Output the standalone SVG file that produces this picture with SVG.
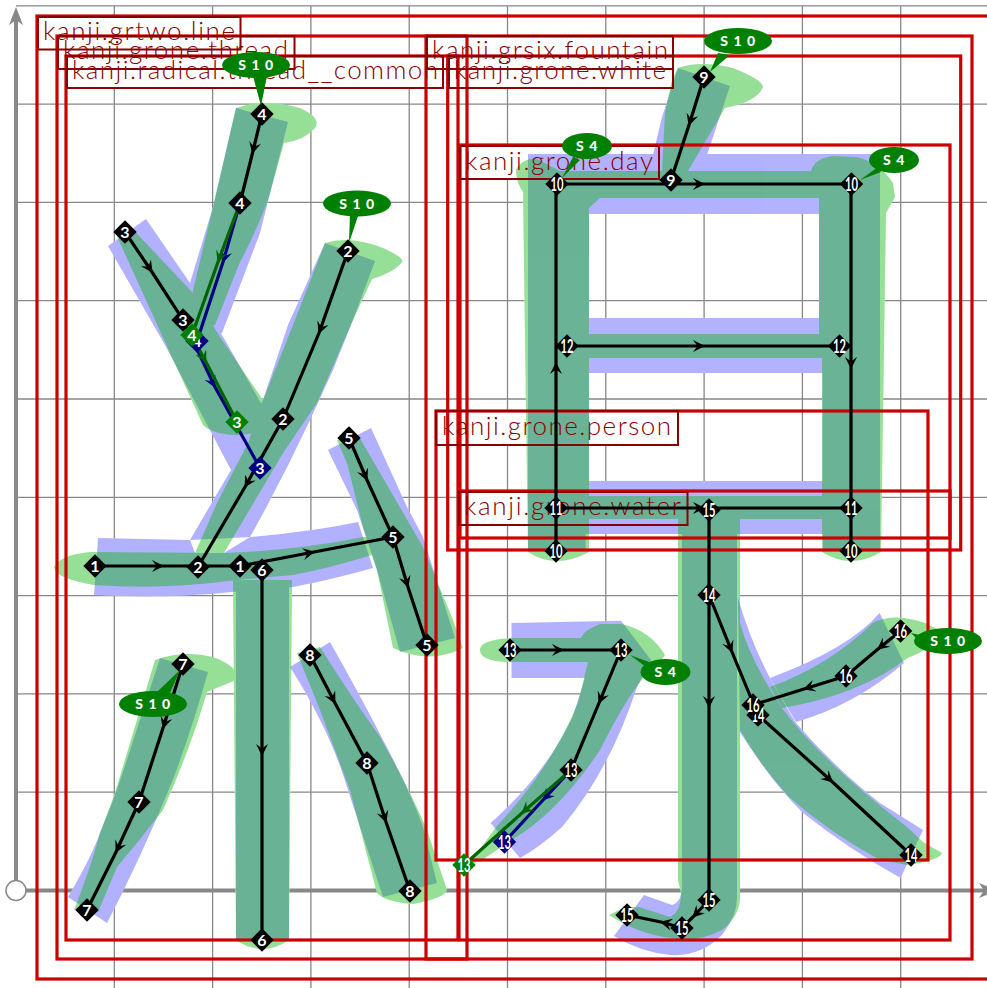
<svg xmlns="http://www.w3.org/2000/svg" width="987" height="988" viewBox="0 0 987 988">
<style>
.g{stroke:#888;stroke-width:1.3;fill:none}
.ax{stroke:#888;stroke-width:4;fill:none}
.r{fill:none;stroke:#cc0000;stroke-width:3.2}
.lb{fill:#fff}
.lf{fill:none;stroke:#8b0000;stroke-width:2}
.lt{font-family:"Lato","Liberation Sans",sans-serif;font-size:26px;font-weight:300;fill:#8b0000}
.c{fill:none;stroke-width:3.2}
.ck{stroke:#000}
.cg{stroke:#006400}
.cn{stroke:#000080}
.n{font-family:"Lato","Liberation Sans",sans-serif;font-size:16px;font-weight:700;fill:#fff;text-anchor:middle}
.w{text-anchor:start;font-size:19px}
.s{font-family:"Lato","Liberation Sans",sans-serif;font-size:14px;font-weight:900;fill:#fff;text-anchor:middle;letter-spacing:5.500px}
.sb{fill:#008000}
</style>
<defs>
<marker id="ak" markerUnits="userSpaceOnUse" markerWidth="16" markerHeight="16" viewBox="-13 -8 16 16" refX="0" refY="0" orient="auto"><path d="M1,0 L-11,-6 L-6.5,0 L-11,6Z" fill="#000"/></marker>
<marker id="ag" markerUnits="userSpaceOnUse" markerWidth="16" markerHeight="16" viewBox="-13 -8 16 16" refX="0" refY="0" orient="auto"><path d="M1,0 L-11,-6 L-6.5,0 L-11,6Z" fill="#006400"/></marker>
<marker id="an" markerUnits="userSpaceOnUse" markerWidth="16" markerHeight="16" viewBox="-13 -8 16 16" refX="0" refY="0" orient="auto"><path d="M1,0 L-11,-6 L-6.5,0 L-11,6Z" fill="#000080"/></marker>
<path id="d" d="M0,-11.700 L11.700,0 L0,11.700 L-11.700,0Z"/>
<g id="bl">
<path d="M98,538 L190,540 L195,553 L224,553 L250,537 Q310,532 358,522 L373,568 Q330,580 293,587 L232,592 Q165,599 94,595Z"/>
<path d="M325,243 L375,261 L353,320 L333,370 L310,420 Q282,480 250,537 L190,540 L231,470 L263,400 L288,325Z"/>
<path d="M146,219 L190,283 L225,340 L262,405 L275,430 L231,470 L165,345 L108,246Z"/>
<path d="M236,108 L288,122 L260,233 L222,333 L195,340 L190,283 L213,207Z"/>
<path d="M371,428 L407,507 L423,537 L455,638 L400,652 L377,570 L357,510 L328,450Z"/>
<path d="M236,575 H289 V940 H236Z"/>
<path d="M160,658 L208,672 Q190,735 172,782 Q140,860 107,923 L68,897 Q90,860 100,833 Q112,805 122,775Z"/>
<path d="M330,642 Q360,695 383,740 Q410,790 423,827 L437,883 L383,897 L347,787 Q330,730 290,667Z"/>
<path d="M678,68 L730,86 L707,155 L688,171 L653,155 L662,117Z"/>
<path d="M528,154 H880 V550 H823 V534 H585.6 V550 H528Z M589,214 V318 H819 V214Z M589,373 V481 H822.5 V373Z" fill-rule="evenodd"/>
<path d="M682,534 H737 V895 Q738,915 722,935 Q700,957 670,955 Q640,952 614,936 L644,895 L672,905 Q682,902 682,885Z"/>
<path d="M511.5,623 L621,620.7 L651,660 L637,687 Q610,770 562,827 Q540,847 520,858 L490.6,823 Q545,775 572.6,717 L585,678 H511.5Z"/>
<path d="M738,598 Q750,640 770,678 Q785,705 796,723 Q835,768 880,803 L923,830 L900.6,878 Q850,850 803,813 Q770,780 740,732Z"/>
<path d="M879.6,613 Q850,648 770,678 L796,722 Q855,705 904,663Z"/>
</g>
<g id="gr">
<path d="M90,552 L224,553 Q300,550 363,537 L368,537 L372,555 Q330,568 293,575 L236,580 Q165,590 94,585 Q54,578 54,567 Q60,555 90,552Z"/>
<path d="M325,243 Q350,235 383,248 Q405,258 402,262 Q395,272 372,279 L353,320 L317,403 L283,453 L224,553 L195,553 L217,503 L248,443 L263,400 L295,320Z"/>
<path d="M115,232 L126,222 L193,293 L220,337 L263,400 L280,430 L240,435 Q213,435 203,425 L155,320Z"/>
<path d="M236,108 Q262,98 300,108 Q322,118 315,128 Q305,140 284,143 L268,200 Q256,232 240,262 L215,325 L193,330 L193,290 L213,207Z"/>
<path d="M337,440 L358,435 L423,547 L453,620 L463,648 Q430,665 393,648 L377,570 L363,527 L347,463Z"/>
<path d="M233,580 H292 L289,940 Q262,958 236,940Z"/>
<path d="M155,660 Q183,650 213,657 Q230,663 236,672 L236,680 L207,692 Q190,750 163,810 Q140,840 117,867 L98,912 L74,910 Q90,870 100,833 L115,793Z"/>
<path d="M297,653 L320,647 Q350,695 380,737 Q410,790 427,830 L447,890 Q445,898 413,904 Q385,902 377,893 L350,790 Q335,750 320,710Z"/>
<path d="M678,68 Q700,60 733,68 Q763,80 763,87 Q757,102 725,108 L688,171 L662,171 L665,113 L672,80Z"/>
<path fill-rule="evenodd" d="M516,170 Q520,160 535,158 L560,171 H811 Q815,158 833,156 L857,157 Q880,163 893,183 L895,197 L886,213 L881,552 Q851,570 822,552 V519 H589 V552 Q556,570 528,552 L525,340 L523,192 Q516,182 516,170Z M600,198 H819 V334 H589 V208Z M589,358 H822 V496 H589Z"/>
<path d="M678,519 H740 V895 Q741,915 722,930 Q700,942 672,938 Q640,935 609,915 L625,907 L639,907 L670,917 Q681,912 681,893 L678,880Z"/>
<path d="M480,650 Q480,640 511.5,638 H581 Q584,630 600,624 H621 Q650,630 665,655 L656,667 L644,677 Q625,700 600,750 Q560,810 515,838 L482,860 L468,866 L496,827 Q550,770 578,703 L588,662 H511.5 Q480,662 480,650Z"/>
<path d="M740,623 Q750,660 782,708 Q820,760 907,827 L923,842 L942,853 Q940,860 907.5,865 L880,860 Q830,833 789,797 Q760,765 740,730Z"/>
<path d="M872.7,623 Q893,612 925,623 L939,630 Q935,648 907.5,658 Q860,695 782,708 L770,687 Q830,665 872.7,623Z"/>
</g>
</defs>
<g id="grid">
<path class="g" d="M114.3,6V988 M212.6,6V988 M310.9,6V988 M409.2,6V988 M507.5,6V988 M605.8,6V988 M704.1,6V988 M802.4,6V988 M900.7,6V988"/>
<path class="g" d="M16,5.8H987 M16,104.1H987 M16,202.4H987 M16,300.7H987 M16,399H987 M16,497.3H987 M16,595.6H987 M16,693.9H987 M16,792.2H987"/>
<path class="ax" d="M16,890.5V14 M16,890.5H985"/>
<path fill="#888" d="M16,7 L23,25 L16,20 L9,25Z"/>
<path fill="#888" d="M997,890.5 L979,883 L984,890.5 L979,898Z"/>
<circle cx="16" cy="890.5" r="10" fill="#fff" stroke="#888" stroke-width="1.5"/>
</g>
<g id="label-backs" class="lb">
<rect x="38" y="17" width="202.500" height="32.500"/>
<rect x="58" y="36" width="236.500" height="33"/>
<rect x="67" y="56" width="376" height="32"/>
<rect x="427" y="36" width="246" height="33"/>
<rect x="449" y="56" width="224" height="32"/>
<rect x="460" y="146" width="199" height="33"/>
<rect x="436" y="411" width="242" height="34"/>
<rect x="459" y="492" width="228.500" height="33"/>
</g>
<g id="shapes">
<use href="#bl" fill="#fff"/>
<use href="#gr" fill="#fff"/>
<use href="#bl" fill="#0000ff" opacity=".3"/>
<use href="#gr" fill="#08b508" opacity=".42"/>
</g>
<g id="groups">
<rect class="r" x="37" y="16" width="960" height="963"/>
<rect class="r" x="57" y="36" width="410" height="923"/>
<rect class="r" x="66" y="56" width="392" height="884"/>
<rect class="r" x="426" y="36" width="546" height="923"/>
<rect class="r" x="447.700" y="56" width="513" height="494"/>
<rect class="r" x="460" y="145" width="490" height="393"/>
<rect class="r" x="436" y="411" width="492" height="449"/>
<rect class="r" x="459" y="491" width="491" height="449"/>
</g>
<g id="labels">
<rect class="lf" x="38" y="17" width="202.500" height="32.500"/><text class="lt" x="43" y="40" textLength="192">kanji.grtwo.line</text>
<rect class="lf" x="58" y="36" width="236.500" height="33"/><text class="lt" x="63" y="59" textLength="225">kanji.grone.thread</text>
<rect class="lf" x="67" y="56" width="376" height="32"/><text class="lt" x="72" y="79" textLength="366">kanji.radical.thread__common</text>
<rect class="lf" x="427" y="36" width="246" height="33"/><text class="lt" x="432" y="59" textLength="236">kanji.grsix.fountain</text>
<rect class="lf" x="449" y="56" width="224" height="32"/><text class="lt" x="454" y="79" textLength="212">kanji.grone.white</text>
<rect class="lf" x="460" y="146" width="199" height="33"/><text class="lt" x="465" y="170" textLength="188">kanji.grone.day</text>
<rect class="lf" x="436" y="411" width="242" height="34"/><text class="lt" x="442" y="435" textLength="229">kanji.grone.person</text>
<rect class="lf" x="459" y="492" width="228.500" height="33"/><text class="lt" x="464" y="515" textLength="217">kanji.grone.water</text>
</g>
<g id="connectors">
<g class="c cn">
<path marker-mid="url(#an)" d="M240,203 L223,262 L197,341"/>
<path marker-mid="url(#an)" d="M183,320 L215,387 L260,468"/>
<path marker-mid="url(#an)" d="M571,770 L543,800 L504.500,842"/>
</g>
<g class="c cg">
<path marker-mid="url(#ag)" d="M240,203 L218,262 L192,335"/>
<path marker-mid="url(#ag)" d="M183,320 L206,362 L237,422"/>
<path marker-mid="url(#ag)" d="M571,770 L522,813 L464,865"/>
</g>
<g class="c ck">
<path marker-mid="url(#ak)" d="M262,114 L252.500,153 L240,203"/>
<path marker-mid="url(#ak)" d="M125,232 L152,272 L183,320"/>
<path marker-mid="url(#ak)" d="M348,251 L319,333 L283,419"/>
<path marker-mid="url(#ak)" d="M283,419 L245,487 L198,567"/>
<path marker-mid="url(#ak)" d="M95,566 L163,566 L240,566"/>
<path marker-mid="url(#ak)" d="M240,566 L314,552 L393,537"/>
<path marker-mid="url(#ak)" d="M349,438 L367,480 L393,537"/>
<path marker-mid="url(#ak)" d="M393,537 L408,587 L427,645"/>
<path marker-mid="url(#ak)" d="M262,570 L262,755 L262,940"/>
<path marker-mid="url(#ak)" d="M183,664 L163,728 L139,802"/>
<path marker-mid="url(#ak)" d="M139,802 L116,852 L87,910"/>
<path marker-mid="url(#ak)" d="M310,655 L335,703 L367,763"/>
<path marker-mid="url(#ak)" d="M367,763 L386,822 L410,891"/>
<path marker-mid="url(#ak)" d="M704,77 L689,125 L671,180"/>
<path marker-mid="url(#ak)" d="M557,184 L704,184 L851.500,184"/>
<path marker-mid="url(#ak)" d="M556,551 L556,363 L556,184"/>
<path marker-mid="url(#ak)" d="M567,346 L704,346 L839.500,346"/>
<path marker-mid="url(#ak)" d="M851,184 L851,368 L851,551"/>
<path marker-mid="url(#ak)" d="M556,508 L704,508 L851,508"/>
<path marker-mid="url(#ak)" d="M709,510 L709,707 L709,900"/>
<path marker-mid="url(#ak)" d="M709,900 L693,917 L682,928"/>
<path marker-mid="url(#ak)" d="M682,928 L661,922 L627,915"/>
<path marker-mid="url(#ak)" d="M709,595 L732,652 L758,715"/>
<path marker-mid="url(#ak)" d="M758,715 L832.500,782 L911,855"/>
<path marker-mid="url(#ak)" d="M900.600,631 L878,649 L846,676"/>
<path marker-mid="url(#ak)" d="M846,676 L804,689 L753,705"/>
<path marker-mid="url(#ak)" d="M510,650 L563,650 L621,650"/>
<path marker-mid="url(#ak)" d="M621,650 L599,703 L571,770"/>
</g>
</g>
<g id="nodes">
<g id="n3b" transform="translate(260,468)" fill="#000080"><use href="#d"/><text class="n" y="6">3</text></g>
<g id="n4b" transform="translate(197,341)" fill="#000080"><use href="#d"/><text class="n" y="6">4</text></g>
<g id="n13b" transform="translate(504.500,842)" fill="#000080"><use href="#d"/><text class="n w" y="7" x="-6.500" textLength="13" lengthAdjust="spacingAndGlyphs">13</text></g>
<g id="n4a"  transform="translate(262,114)"><use href="#d"/><text class="n" y="6">4</text></g>
<g id="n4c"  transform="translate(240,203)"><use href="#d"/><text class="n" y="6">4</text></g>
<g id="n3a"  transform="translate(125,232)"><use href="#d"/><text class="n" y="6">3</text></g>
<g id="n3c"  transform="translate(183,320)"><use href="#d"/><text class="n" y="6">3</text></g>
<g id="n2a"  transform="translate(348,251)"><use href="#d"/><text class="n" y="6">2</text></g>
<g id="n2b"  transform="translate(283,419)"><use href="#d"/><text class="n" y="6">2</text></g>
<g id="n2c"  transform="translate(198,567)"><use href="#d"/><text class="n" y="6">2</text></g>
<g id="n1a"  transform="translate(95,566)"><use href="#d"/><text class="n" y="6">1</text></g>
<g id="n1b"  transform="translate(240,566)"><use href="#d"/><text class="n" y="6">1</text></g>
<g id="n5a"  transform="translate(349,438)"><use href="#d"/><text class="n" y="6">5</text></g>
<g id="n5b"  transform="translate(393,537)"><use href="#d"/><text class="n" y="6">5</text></g>
<g id="n5c"  transform="translate(427,645)"><use href="#d"/><text class="n" y="6">5</text></g>
<g id="n6a"  transform="translate(262,570)"><use href="#d"/><text class="n" y="6">6</text></g>
<g id="n6b"  transform="translate(262,940)"><use href="#d"/><text class="n" y="6">6</text></g>
<g id="n7a"  transform="translate(183,664)"><use href="#d"/><text class="n" y="6">7</text></g>
<g id="n7b"  transform="translate(139,802)"><use href="#d"/><text class="n" y="6">7</text></g>
<g id="n7c"  transform="translate(87,910)"><use href="#d"/><text class="n" y="6">7</text></g>
<g id="n8a"  transform="translate(310,655)"><use href="#d"/><text class="n" y="6">8</text></g>
<g id="n8b"  transform="translate(367,763)"><use href="#d"/><text class="n" y="6">8</text></g>
<g id="n8c"  transform="translate(410,891)"><use href="#d"/><text class="n" y="6">8</text></g>
<g id="n9a"  transform="translate(704,77)"><use href="#d"/><text class="n" y="6">9</text></g>
<g id="n9b"  transform="translate(671,180)"><use href="#d"/><text class="n" y="6">9</text></g>
<g id="n10a" transform="translate(557,184)"><use href="#d"/><text class="n w" y="7" x="-6.500" textLength="13" lengthAdjust="spacingAndGlyphs">10</text></g>
<g id="n10b" transform="translate(851.500,184)"><use href="#d"/><text class="n w" y="7" x="-6.500" textLength="13" lengthAdjust="spacingAndGlyphs">10</text></g>
<g id="n10c" transform="translate(556,551)"><use href="#d"/><text class="n w" y="7" x="-6.500" textLength="13" lengthAdjust="spacingAndGlyphs">10</text></g>
<g id="n10d" transform="translate(851,551)"><use href="#d"/><text class="n w" y="7" x="-6.500" textLength="13" lengthAdjust="spacingAndGlyphs">10</text></g>
<g id="n11a" transform="translate(556,508)"><use href="#d"/><text class="n w" y="7" x="-6.500" textLength="13" lengthAdjust="spacingAndGlyphs">11</text></g>
<g id="n11b" transform="translate(851,508)"><use href="#d"/><text class="n w" y="7" x="-6.500" textLength="13" lengthAdjust="spacingAndGlyphs">11</text></g>
<g id="n12a" transform="translate(567,346)"><use href="#d"/><text class="n w" y="7" x="-6.500" textLength="13" lengthAdjust="spacingAndGlyphs">12</text></g>
<g id="n12b" transform="translate(839.500,346)"><use href="#d"/><text class="n w" y="7" x="-6.500" textLength="13" lengthAdjust="spacingAndGlyphs">12</text></g>
<g id="n13a" transform="translate(510,650)"><use href="#d"/><text class="n w" y="7" x="-6.500" textLength="13" lengthAdjust="spacingAndGlyphs">13</text></g>
<g id="n13c" transform="translate(621,650)"><use href="#d"/><text class="n w" y="7" x="-6.500" textLength="13" lengthAdjust="spacingAndGlyphs">13</text></g>
<g id="n13d" transform="translate(571,770)"><use href="#d"/><text class="n w" y="7" x="-6.500" textLength="13" lengthAdjust="spacingAndGlyphs">13</text></g>
<g id="n14a" transform="translate(709,595)"><use href="#d"/><text class="n w" y="7" x="-6.500" textLength="13" lengthAdjust="spacingAndGlyphs">14</text></g>
<g id="n14b" transform="translate(758,715)"><use href="#d"/><text class="n w" y="7" x="-6.500" textLength="13" lengthAdjust="spacingAndGlyphs">14</text></g>
<g id="n14c" transform="translate(911,855)"><use href="#d"/><text class="n w" y="7" x="-6.500" textLength="13" lengthAdjust="spacingAndGlyphs">14</text></g>
<g id="n15a" transform="translate(709,510)"><use href="#d"/><text class="n w" y="7" x="-6.500" textLength="13" lengthAdjust="spacingAndGlyphs">15</text></g>
<g id="n15b" transform="translate(709,900)"><use href="#d"/><text class="n w" y="7" x="-6.500" textLength="13" lengthAdjust="spacingAndGlyphs">15</text></g>
<g id="n15c" transform="translate(682,928)"><use href="#d"/><text class="n w" y="7" x="-6.500" textLength="13" lengthAdjust="spacingAndGlyphs">15</text></g>
<g id="n15d" transform="translate(627,915)"><use href="#d"/><text class="n w" y="7" x="-6.500" textLength="13" lengthAdjust="spacingAndGlyphs">15</text></g>
<g id="n16a" transform="translate(900.600,631)"><use href="#d"/><text class="n w" y="7" x="-6.500" textLength="13" lengthAdjust="spacingAndGlyphs">16</text></g>
<g id="n16b" transform="translate(846,676)"><use href="#d"/><text class="n w" y="7" x="-6.500" textLength="13" lengthAdjust="spacingAndGlyphs">16</text></g>
<g id="n16c" transform="translate(753,705)"><use href="#d"/><text class="n w" y="7" x="-6.500" textLength="13" lengthAdjust="spacingAndGlyphs">16</text></g>
<g id="n3g" transform="translate(237,422)" fill="#008000"><use href="#d"/><text class="n" y="6">3</text></g>
<g id="n4g" transform="translate(192,335)" fill="#008000"><use href="#d"/><text class="n" y="6">4</text></g>
<g id="n13g" transform="translate(464,865)" fill="#008000"><use href="#d"/><text class="n w" y="7" x="-6.500" textLength="13" lengthAdjust="spacingAndGlyphs">13</text></g>
<g id="s1" class="sb"><polygon points="253,76 267,76 261,106"/><ellipse cx="256" cy="65" rx="34" ry="13"/><text class="s" x="258.500" y="70">S10</text></g>
<g id="s2" class="sb"><polygon points="350,213 359,213 349,243"/><ellipse cx="357" cy="203.500" rx="34" ry="13"/><text class="s" x="359.500" y="208.500">S10</text></g>
<g id="s3" class="sb"><polygon points="718,53 730,55 710,72"/><ellipse cx="738" cy="41" rx="34" ry="13"/><text class="s" x="740.500" y="46">S10</text></g>
<g id="s4" class="sb"><polygon points="573,157 580,160 562,178"/><ellipse cx="587" cy="146" rx="25" ry="13"/><text class="s" x="589.500" y="151">S4</text></g>
<g id="s5" class="sb"><polygon points="878,167 881,172 860,180"/><ellipse cx="894" cy="160" rx="25" ry="13"/><text class="s" x="896.500" y="165">S4</text></g>
<g id="s6" class="sb"><polygon points="920,635 920,642 911,633"/><ellipse cx="948" cy="641" rx="34" ry="13"/><text class="s" x="950.500" y="646">S10</text></g>
<g id="s7" class="sb"><polygon points="649,662 646,667 630,655"/><ellipse cx="665.500" cy="672" rx="25" ry="13"/><text class="s" x="668" y="677">S4</text></g>
<g id="s8" class="sb"><polygon points="157,692 170,693 180,670"/><ellipse cx="153" cy="704" rx="34" ry="13"/><text class="s" x="155.500" y="709">S10</text></g>
</g>
</svg>
